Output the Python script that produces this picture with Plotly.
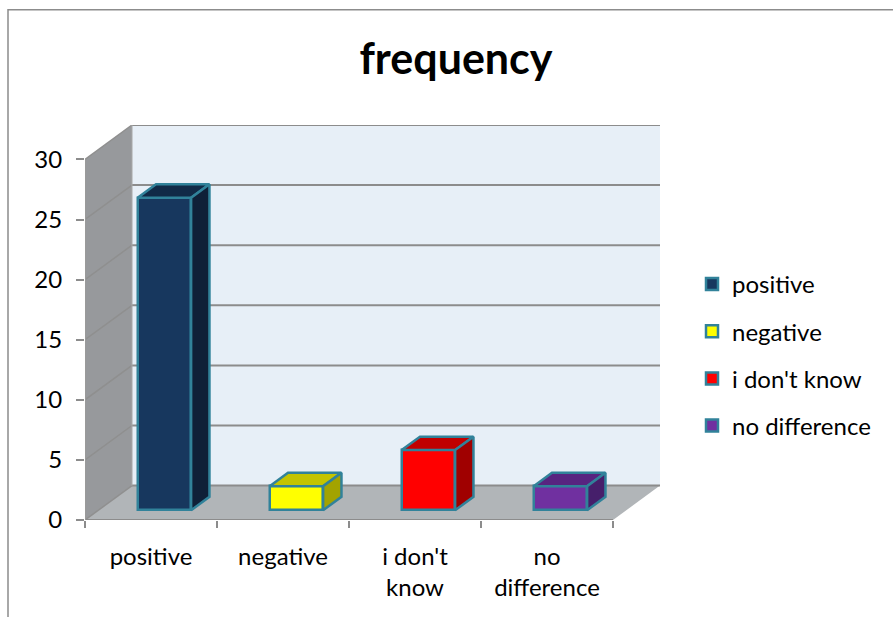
import plotly.graph_objects as go

categories = ["positive", "negative", "i don't<br>know", "no<br>difference"]
legend_names = ["positive", "negative", "i don't know", "no difference"]
values = [26, 2, 5, 2]
y_ticks = [0, 5, 10, 15, 20, 25, 30]

front_colors = ["#17375e", "#ffff00", "#ff0000", "#7030a0"]
top_colors = ["#112a47", "#c4c400", "#c00000", "#582480"]
side_colors = ["#0f2038", "#a3a300", "#a00000", "#461f6b"]
edge = "#31829a"
grid = "#8c8c8c"

# oblique depth of the fake 3d box, in axis units
depth_x = 47 / 132
depth_y = 34.5 / 12.05
bar_width = 0.405
bar_front = 0.285  # share of the depth in front of the bar
bar_depth = 0.39

font = "Lato"
fig = go.Figure()

shapes = []


def poly(xs, ys, fill, line=None, width=0):
    path = "M" + " L".join(f"{x},{y}" for x, y in zip(xs, ys)) + " Z"
    shapes.append(dict(type="path", path=path, xref="x", yref="y", layer="below",
                       fillcolor=fill, line=dict(color=line or fill, width=width)))


def seg(x0, y0, x1, y1, color=grid, width=2):
    shapes.append(dict(type="line", x0=x0, y0=y0, x1=x1, y1=y1, xref="x", yref="y",
                       layer="below", line=dict(color=color, width=width)))


# walls and floor
poly([depth_x, 4 + depth_x, 4 + depth_x, depth_x],
     [depth_y, depth_y, 30 + depth_y, 30 + depth_y], "#e7eff7")
poly([0, depth_x, depth_x, 0], [0, depth_y, 30 + depth_y, 30], "#97999c")
poly([0, 4, 4 + depth_x, depth_x], [0, 0, depth_y, depth_y], "#b1b5b8")
for v in y_ticks:
    seg(0, v, depth_x, v + depth_y, color="#8f8f8f", width=1.5)
    seg(depth_x, v + depth_y, 4 + depth_x, v + depth_y)
seg(0, 0, 4, 0)
seg(0, 0, 0, 30, color="#9a9a9a")
seg(depth_x, depth_y, depth_x, 30 + depth_y, color="#a8a8a8", width=1)

for i, v in enumerate(values):
    base = depth_y * bar_front
    center = i + 0.5 + depth_x * bar_front
    left = center - bar_width / 2
    right = center + bar_width / 2
    ddx = depth_x * bar_depth
    ddy = depth_y * bar_depth
    fig.add_trace(go.Bar(x=[center], y=[v], base=base, width=bar_width, name=legend_names[i],
                         legendgroup=legend_names[i],
                         marker=dict(color=front_colors[i], line=dict(color=edge, width=2.5))))
    # top face
    fig.add_trace(go.Scatter(x=[left, right, right + ddx, left + ddx, left],
                             y=[base + v, base + v, base + v + ddy, base + v + ddy, base + v],
                             mode="lines", fill="toself", fillcolor=top_colors[i],
                             line=dict(color=edge, width=2.5), showlegend=False, hoverinfo="skip"))
    # side face
    fig.add_trace(go.Scatter(x=[right, right + ddx, right + ddx, right, right],
                             y=[base, base + ddy, base + v + ddy, base + v, base],
                             mode="lines", fill="toself", fillcolor=side_colors[i],
                             line=dict(color=edge, width=2.5), showlegend=False, hoverinfo="skip"))

plot_w = 4 * 132 + 47

# chart frame, only the top and left edges are inside the picture
frame = dict(type="rect", xref="paper", yref="paper", x0=(8 - 85) / plot_w, x1=1.5,
             y0=-0.5, y1=(520.5 - 9) / 396, layer="below", line=dict(color="#8c8c8c", width=1.5))

fig.update_layout(
    width=893, height=617,
    margin=dict(l=85, r=893 - 85 - plot_w, t=124.5, b=96.5),
    paper_bgcolor="white", plot_bgcolor="rgba(0,0,0,0)",
    font=dict(family=font, size=24, color="black"),
    title=dict(text="<b>frequency</b>", font=dict(family=font, size=43, color="black"),
               x=456 / 893, xanchor="center", y=1 - 59 / 617, yanchor="middle"),
    barmode="overlay",
    bargap=0,
    shapes=[frame] + shapes,
    legend=dict(x=(692 - 85) / plot_w, xref="paper", y=(520.5 - 355) / 396, yanchor="middle",
                traceorder="grouped", tracegroupgap=13, font=dict(size=24), itemclick=False),
    xaxis=dict(range=[0, 4 + depth_x], tickmode="array", tickvals=[0.5, 1.5, 2.5, 3.5],
               ticktext=categories, ticklen=0, showgrid=False, zeroline=False, showline=False,
               ticklabelstandoff=20,
               minor=dict(tickmode="array", tickvals=[0, 1, 2, 3, 4], ticks="outside",
                          ticklen=7, tickcolor=grid, tickwidth=2, showgrid=False)),
    yaxis=dict(range=[0, 30 + depth_y], tickmode="array", tickvals=y_ticks, ticks="outside",
               ticklen=8, tickcolor=grid, tickwidth=2, showgrid=False, zeroline=False,
               showline=False, ticklabelstandoff=9),
)

fig.write_html("out.html", config=dict(displayModeBar=False),
               post_script="document.body.style.margin='0'")
